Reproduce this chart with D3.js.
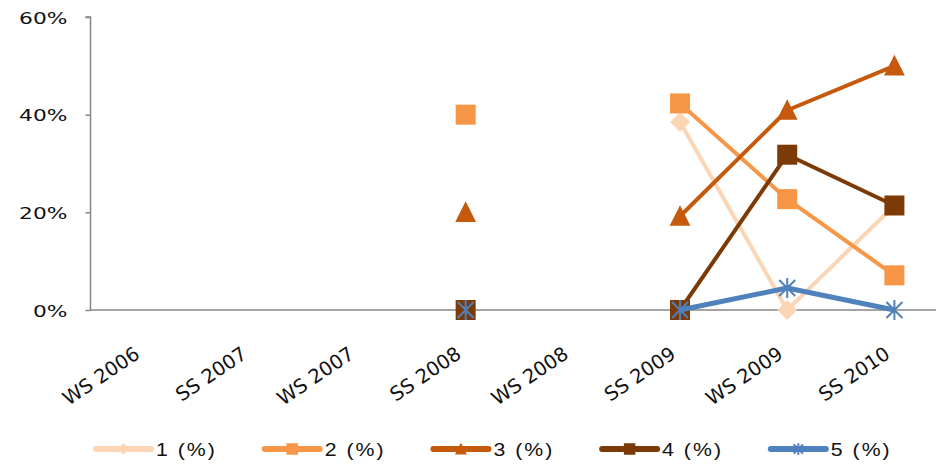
<!DOCTYPE html>
<html><head><meta charset="utf-8">
<script src="https://cdn.jsdelivr.net/npm/d3@7"></script>
<style>body{margin:0;background:#fff}</style>
</head><body>
<script>
const categories = ["WS 2006","SS 2007","WS 2007","SS 2008","WS 2008","SS 2009","WS 2009","SS 2010"];
const seriesNames = ["1 (%)","2 (%)","3 (%)","4 (%)","5 (%)"];
const s1 = [null,null,null,0,null,38.5,0,21.4];
const s2 = [null,null,null,40,null,42.3,22.7,7.1];
const s3 = [null,null,null,20,null,19.2,40.9,50];
const s4 = [null,null,null,0,null,0,31.8,21.4];
const s5 = [null,null,null,0,null,0,4.5,0];
const yTicks = [0,20,40,60];
const colors = ["#FCD5B5","#F79646","#C55A0C","#7B3A06","#4F81BD"];
const markers = ["diamond","square","triangle","square","star"];
const allSeries = [s1,s2,s3,s4,s5];

const W=936,H=465;
const svg=d3.select("body").append("svg").attr("width",W).attr("height",H);
const x=d3.scaleBand().domain(categories).range([90.5,948]);
const y=d3.scaleLinear().domain([0,60]).range([310,17]);

// y axis
const ya=svg.append("g").attr("transform","translate(90.5,0)").call(d3.axisLeft(y).tickValues(yTicks).tickFormat(d=>d+"%").tickSize(5));
ya.select(".domain").attr("stroke","#868686").attr("stroke-width",1.5).attr("d","M-5,17H0V310");
ya.selectAll(".tick line").attr("stroke","#868686").attr("stroke-width",1.5);
ya.selectAll(".tick text").attr("x",null).attr("dy",null)
  .attr("transform","translate(-23,6) scale(1.32,1)").attr("text-anchor","end")
  .attr("font-family","'DejaVu Sans', Verdana, sans-serif").attr("font-size",16.5).attr("fill","#111");

// x axis
svg.append("line").attr("x1",90).attr("x2",W).attr("y1",y(0)).attr("y2",y(0)).attr("stroke","#868686").attr("stroke-width",1.5);
svg.append("g").selectAll("text").data(categories).join("text")
  .attr("transform",d=>`translate(${x(d)+x.bandwidth()/2-3},357) rotate(-34)`)
  .attr("text-anchor","end").attr("font-family","'DejaVu Sans', Verdana, sans-serif").attr("font-size",19.5).attr("fill","#111").text(d=>d);

function drawMarker(g,type,color,size){
  if(type==="square") g.append("rect").attr("x",-size/2).attr("y",-size/2).attr("width",size).attr("height",size).attr("fill",color);
  else if(type==="triangle") g.append("path").attr("d",`M0,${-size*0.55}L${size*0.52},${size*0.48}L${-size*0.52},${size*0.48}Z`).attr("fill",color);
  else if(type==="diamond") g.append("path").attr("d",`M0,${-size*0.5}L${size*0.5},0L0,${size*0.5}L${-size*0.5},0Z`).attr("fill",color);
  else if(type==="star"){
    const r=size*0.5;
    g.append("path").attr("d",`M0,${-r}V${r}M${-r*0.8},${-r*0.8}L${r*0.8},${r*0.8}M${-r*0.8},${r*0.8}L${r*0.8},${-r*0.8}`).attr("stroke",color).attr("stroke-width",2).attr("fill","none");
  }
}

const cx=d=>x(d)+x.bandwidth()/2;
allSeries.forEach((vals,i)=>{
  const pts=categories.map((c,j)=>({c,v:vals[j]}));
  const line=d3.line().defined(d=>d.v!==null).x(d=>cx(d.c)).y(d=>y(d.v));
  svg.append("path").datum(pts).attr("d",line).attr("fill","none").attr("stroke",colors[i]).attr("stroke-width",i===4?5:4).attr("stroke-linejoin","round");
  categories.forEach((c,j)=>{
    if(vals[j]===null) return;
    const g=svg.append("g").attr("transform",`translate(${cx(c)},${y(vals[j])})`);
    drawMarker(g,markers[i],colors[i],20);
  });
});

// legend
const lg=svg.append("g");
seriesNames.forEach((n,i)=>{
  const lx=96+i*168.7, ly=449;
  lg.append("line").attr("x1",lx).attr("x2",lx+55).attr("y1",ly).attr("y2",ly).attr("stroke",colors[i]).attr("stroke-width",6).attr("stroke-linecap","round");
  const g=lg.append("g").attr("transform",`translate(${lx+27.5},${ly})`);
  drawMarker(g,markers[i],colors[i],11.5);
  lg.append("text").attr("transform",`translate(${lx+60},${ly+7}) scale(1.12,1)`)
    .attr("font-family","'Liberation Sans', Arial, sans-serif").attr("font-size",19).attr("letter-spacing","1.8px").attr("fill","#111").text(n);
});
</script>
</body></html>
